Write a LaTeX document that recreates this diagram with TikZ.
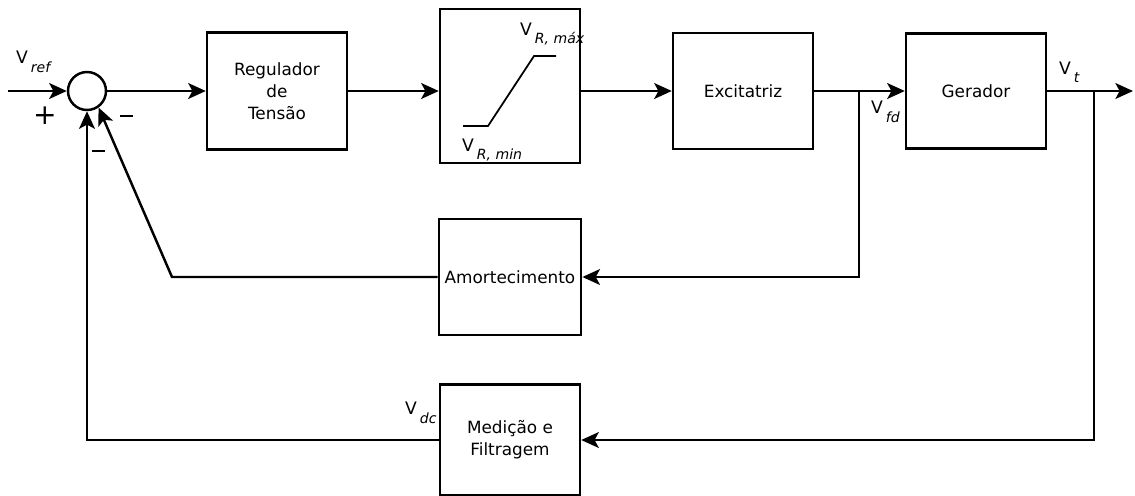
\documentclass[tikz,border=0pt]{standalone}
\usepackage{fontspec}
\setmainfont{DejaVu Sans}
\usetikzlibrary{arrows.meta}

% tension with an italic index
\newcommand{\Vsub}[1]{V\,\raisebox{-0.9ex}{\footnotesize\itshape #1}}

\begin{document}
\begin{tikzpicture}[x=0.02cm,y=-0.02cm,
	line width=1.4pt,
	seta/.style={-{Stealth[length=10pt,width=9pt,inset=2.4pt]}},
	bloco/.style={draw, minimum width=2.8cm, align=center, font=\fontsize{9.6}{12.5}\selectfont},
	rot/.style={font=\fontsize{9.8}{11}\selectfont, inner sep=0pt}]

	\useasboundingbox (0,0) rectangle (1135,495);

	% blocks
	\node[bloco, minimum height=2.34cm] (reg) at (277,91) {Regulador\\de\\Tensão};
	\node[bloco, minimum height=3.08cm] (lim) at (510,86) {};
	\node[bloco, minimum height=2.32cm] (exc) at (743,91) {Excitatriz};
	\node[bloco, minimum height=2.30cm] (ger) at (976,91) {Gerador};
	\node[bloco, minimum height=2.32cm] (amo) at (510,277) {Amortecimento};
	\node[bloco, minimum height=2.22cm] (med) at (510,440) {Medição e\\Filtragem};

	% summing point
	\node[draw, circle, minimum size=0.76cm, inner sep=0pt] (soma) at (87,91) {};

	\coordinate (ent) at (8,91);
	\coordinate (sai) at (1133,91);
	\coordinate (bfd) at (859,91);
	\coordinate (bt) at (1094,91);
	\coordinate (dobra) at (172,277);

	% forward path
	\draw[seta] (ent) -- (soma);
	\draw[seta] (soma) -- (reg);
	\draw[seta] (reg.east) -- (reg.east -| lim.west);
	\draw[seta] (exc.west -| lim.east) -- (exc.west);
	\draw[seta] (exc) -- (ger);
	\draw[seta] (ger) -- (sai);

	% feedback loops
	\draw[seta] (bfd) |- (amo);
	\draw[seta] (amo) -- (dobra) -- (soma.-55);
	\draw[seta] (bt) |- (med);
	\draw[seta] (med.west) -| (soma.south);

	% limiter characteristic
	\draw[line width=1pt] (463,126) -- (488,126) -- (534,56) -- (556,56);

	% signals
	\node[rot, anchor=west] (vref) at (15,62) {\Vsub{ref}};
	\node[rot, anchor=west] (vmax) at (519,34) {\Vsub{R, máx}};
	\node[rot, anchor=west] (vmin) at (461,150) {\Vsub{R, min}};
	\node[rot, anchor=west] (vfd) at (870,112) {\Vsub{fd}};
	\node[rot, anchor=west] (vt) at (1058,72) {\Vsub{t}};
	\node[rot, anchor=west] (vdc) at (404,413) {\Vsub{dc}};

	% signs
	\node[font=\fontsize{16}{16}\selectfont, inner sep=0pt] (mais) at (45,116) {+};
	\draw[line width=1.3pt] (120,116) -- (133,116);
	\draw[line width=1.3pt] (92,151) -- (105,151);

\end{tikzpicture}
\end{document}
